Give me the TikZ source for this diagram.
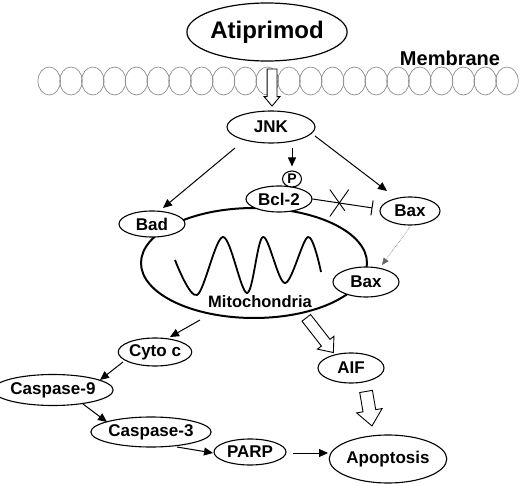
\documentclass[tikz,border=0pt]{standalone}
\usepackage{fontspec}
\setmainfont{Liberation Sans}
\usetikzlibrary{shapes.geometric,shapes.arrows,shapes.misc,arrows.meta}
\begin{document}
\begin{tikzpicture}[x=1pt,y=-1pt,
  lab/.style={font=\fontsize{17}{20}\selectfont\bfseries},
  ell/.style={ellipse, draw, line width=1.1pt, fill=white, inner sep=0pt, lab},
  arr/.style={line width=1pt, -{Triangle[length=9pt,width=8pt]}},
  hollow/.style={single arrow, draw, fill=white, line width=0.9pt, inner sep=0pt, anchor=tail,
     single arrow tip angle=80, single arrow head indent=0pt},
  memb/.style={ellipse, draw=black!45, line width=0.7pt, minimum width=22.5pt, minimum height=28pt, inner sep=0pt}]
\useasboundingbox (0,0) rectangle (520,484);
% membrane
\foreach \i in {0,...,21} {\node[memb] (m\i) at (49.2+21.8*\i,81) {};}
\node[font=\fontsize{20}{24}\selectfont\bfseries] (memtxt) at (450,58) {Membrane};
\node[ell, line width=1.2pt, minimum width=122pt, minimum height=58pt, font=\fontsize{24}{28}\selectfont\bfseries] (atip) at (267,32) {Atiprimod};
\node[ell, minimum width=88pt, minimum height=32pt] (jnk) at (271,127) {JNK};
% mitochondria
\node[ellipse, draw, line width=2pt, minimum width=226pt, minimum height=110pt, inner sep=0pt] (mito) at (254,263) {};
\draw[line width=1.8pt, line join=round] plot[smooth, tension=0.55] coordinates {(175,260) (197,295) (223,237) (247,293) (263,237) (285,283) (308,237) (321,272)};
\node[lab, font=\fontsize{16.5}{20}\selectfont\bfseries] (mtxt) at (260,302) {Mitochondria};
\node[ell, minimum width=66pt, minimum height=26pt] (bcl) at (279,199) {Bcl-2};
\node[ellipse, draw, line width=1.1pt, fill=white, inner sep=0pt, minimum width=19pt, minimum height=16pt, font=\fontsize{14}{16}\selectfont\bfseries] (p) at (292,179) {P};
\node[ell, minimum width=66pt, minimum height=26pt] (bad) at (152,224) {Bad};
\node[ell, minimum width=60pt, minimum height=28pt] (baxA) at (410,211) {Bax};
\node[ell, minimum width=66pt, minimum height=30pt] (baxB) at (366,282) {Bax};
\node[ell, minimum width=66pt, minimum height=28pt] (cyto) at (155,352) {Cyto c};
\node[ell, minimum width=102pt, minimum height=31pt] (casp9) at (53,390) {Caspase-9};
\node[ell, minimum width=102pt, minimum height=30pt] (casp3) at (151,432) {Caspase-3};
\node[ell, minimum width=72pt, minimum height=26pt] (parp) at (250,452) {PARP};
\node[ell, minimum width=66pt, minimum height=30pt] (aif) at (351,368) {AIF};
\node[ell, minimum width=102pt, minimum height=48pt] (apop) at (388,459) {Apoptosis};
% connectors
\draw[arr] ([shift={(-36,21)}]jnk.center) -- ([shift={(11,-16)}]bad.center);
\draw[arr, shorten <=4pt, shorten >=4pt] (jnk.south -| p.north) -- (p.north);
\draw[arr] ([shift={(44,9)}]jnk.center) -- ([shift={(-23,-20)}]baxA.center);
\draw[line width=1pt, -{Bar[width=15pt]}, shorten >=7pt] (bcl.east) -- node[pos=0.4, cross out, draw, line width=0.9pt, minimum width=18pt, minimum height=26pt, inner sep=0pt] (x) {} ([yshift=2pt]baxA.west);
\draw[black!60, line width=0.6pt, densely dotted, -{Triangle[length=7pt,width=6pt]}] ([shift={(0,16)}]baxA.center) -- ([shift={(16,-17)}]baxB.center);
\draw[arr] ([shift={(-54,57)}]mito.center) -- ([shift={(15,-15)}]cyto.center);
\draw[arr] ([shift={(-32,10)}]cyto.center) -- ([shift={(47,-10)}]casp9.center);
\draw[arr] ([shift={(30,14)}]casp9.center) -- ([shift={(-44,-10)}]casp3.center);
\draw[arr] ([shift={(26,15)}]casp3.center) -- ([shift={(-37,1)}]parp.center);
\draw[arr] ([shift={(43,1)}]parp.center) -- ([shift={(-60,-6)}]apop.center);
% hollow arrows
\node[hollow, rotate=-90, inner ysep=4.5pt, single arrow head extend=3pt, minimum height=37pt] (h1) at ([shift={(5,7)}]atip.south) {};
\node[hollow, rotate=-52, inner ysep=5pt, single arrow head extend=5pt, minimum height=44pt] (h2) at ([shift={(-45,-50.5)}]aif.center) {};
\node[hollow, rotate=-80.3, inner ysep=6pt, single arrow head extend=6.5pt, minimum height=35pt] (h3) at ([shift={(15,23)}]aif.center) {};
\end{tikzpicture}
\end{document}
